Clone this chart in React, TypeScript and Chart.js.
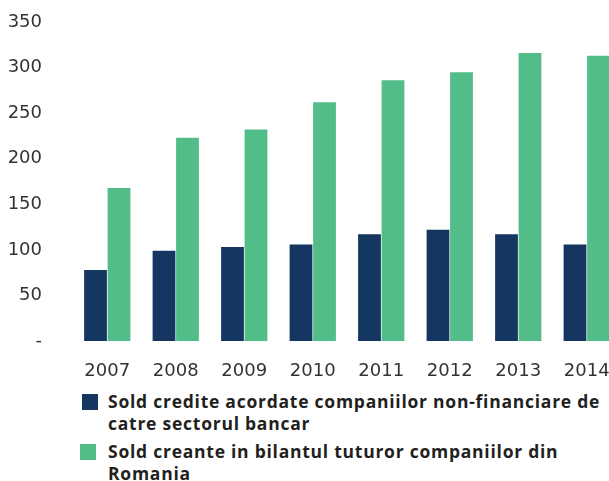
import React, { useEffect, useRef } from "react";
import { Chart, registerables } from "chart.js";

Chart.register(...registerables);

const categories = ["2007", "2008", "2009", "2010", "2011", "2012", "2013", "2014"];
const seriesNames = [
  ["Sold credite acordate companiilor non-financiare de", "catre sectorul bancar"],
  ["Sold creante in bilantul tuturor companiilor din", "Romania"],
];
const creditValues = [78, 99, 103, 106, 117, 122, 117, 106];
const creanteValues = [168, 223, 232, 262, 286, 295, 316, 313];
const seriesColors = ["#143660", "#52BD89"];
const yTicks = [0, 50, 100, 150, 200, 250, 300, 350];

export default function App() {
  const canvasRef = useRef<HTMLCanvasElement | null>(null);

  useEffect(() => {
    if (!canvasRef.current) return;
    const chart = new Chart(canvasRef.current, {
      type: "bar",
      data: {
        labels: categories,
        datasets: [
          {
            label: seriesNames[0].join(" "),
            data: creditValues,
            backgroundColor: seriesColors[0],
            categoryPercentage: 0.686,
            barPercentage: 0.97,
          },
          {
            label: seriesNames[1].join(" "),
            data: creanteValues,
            backgroundColor: seriesColors[1],
            categoryPercentage: 0.686,
            barPercentage: 0.97,
          },
        ],
      },
      options: {
        animation: false,
        responsive: false,
        maintainAspectRatio: false,
        layout: { padding: { top: 22, left: 0, right: 0, bottom: 0 } },
        plugins: {
          legend: { display: false },
          tooltip: { enabled: false },
        },
        scales: {
          x: {
            grid: { display: false, drawTicks: false },
            border: { display: false },
            ticks: {
              font: { family: "DejaVu Sans", size: 18 },
              color: "#333333",
              padding: 20,
              maxRotation: 0,
              autoSkip: false,
            },
            afterFit: (axis: any) => {
              axis.height = 42;
              axis.paddingLeft = 0;
              axis.paddingRight = 0;
            },
          },
          y: {
            min: yTicks[0],
            max: yTicks[yTicks.length - 1],
            grid: { display: false, drawTicks: false },
            border: { display: false },
            ticks: {
              stepSize: 50,
              font: { family: "DejaVu Sans", size: 18 },
              color: "#333333",
              padding: 31,
              callback: (v: any) => (Number(v) === 0 ? "-" : String(v)),
            },
            afterFit: (axis: any) => {
              axis.width = 73;
              axis.paddingTop = 0;
              axis.paddingBottom = 0;
            },
          },
        },
      },
    });
    return () => chart.destroy();
  }, []);

  const legendFont = "'Open Sans', sans-serif";

  return (
    <div
      style={{
        position: "absolute",
        left: 0,
        top: 0,
        width: 609,
        height: 481,
        overflow: "hidden",
        background: "#ffffff",
      }}
    >
      <canvas
        ref={canvasRef}
        width={621}
        height={383}
        style={{ position: "absolute", left: 0, top: 0, width: 621, height: 383 }}
      />
      <div style={{ position: "absolute", left: 81, top: 390, width: 560 }}>
        {seriesNames.map((lines, i) => (
          <div
            key={i}
            style={{
              position: "relative",
              paddingLeft: 27,
              marginBottom: 6,
              fontFamily: legendFont,
              fontWeight: 700,
              fontSize: 17.5,
              letterSpacing: "0.75px",
              lineHeight: "22px",
              color: "#231F20",
              whiteSpace: "nowrap",
            }}
          >
            <span
              style={{
                position: "absolute",
                left: i === 0 ? 1 : -1,
                top: 4,
                width: 16,
                height: 16,
                background: seriesColors[i],
              }}
            />
            {lines.map((l, j) => (
              <div key={j}>{l}</div>
            ))}
          </div>
        ))}
      </div>
    </div>
  );
}
